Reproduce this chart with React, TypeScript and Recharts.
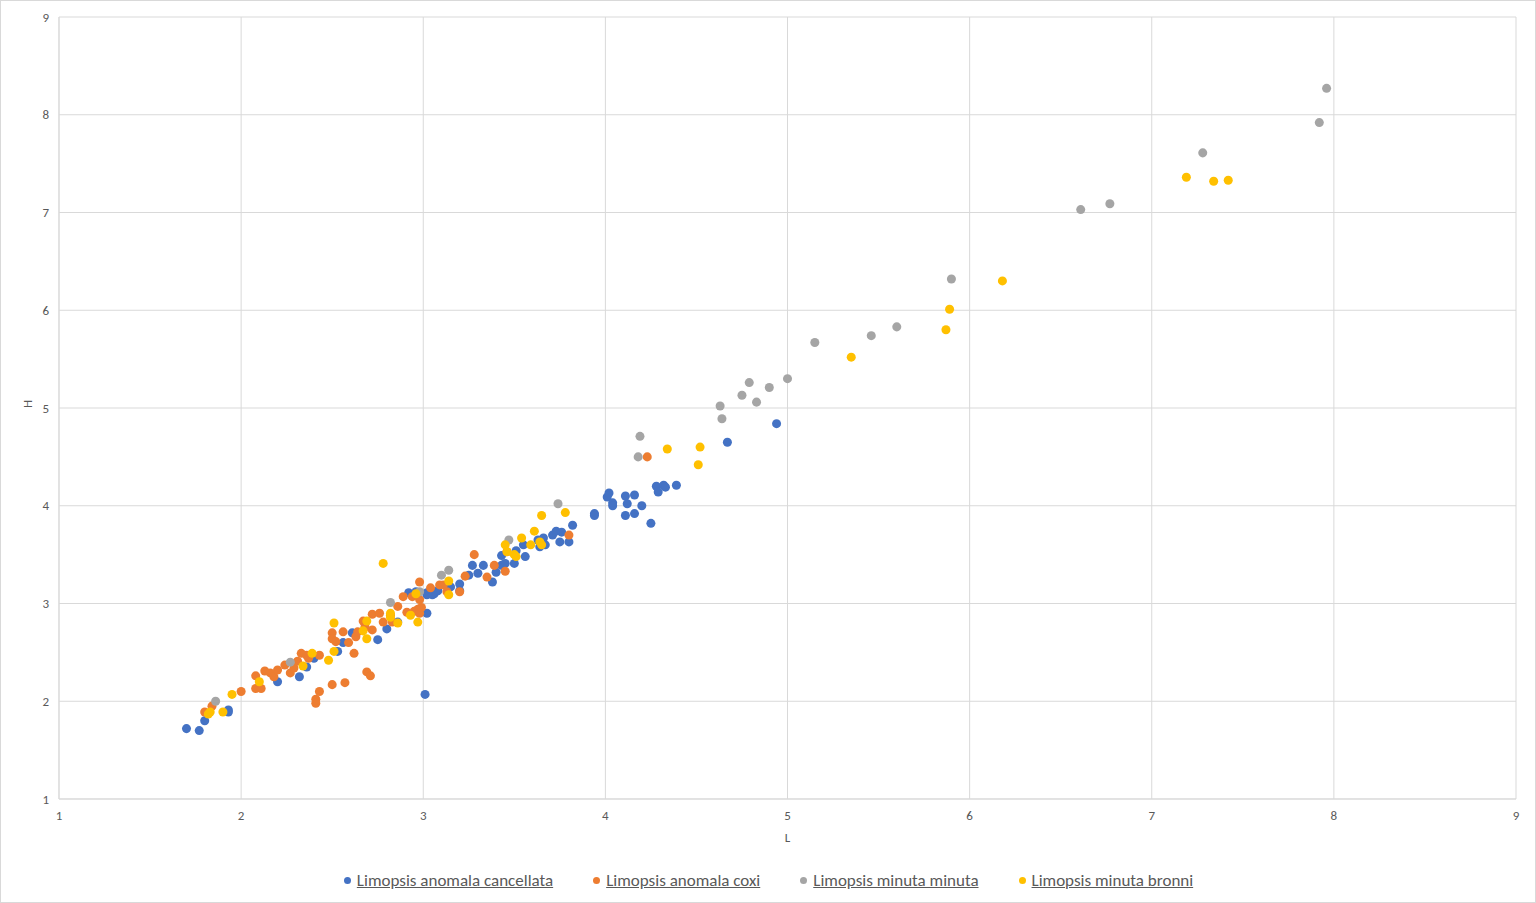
import React from 'react';
import {
  ScatterChart,
  Scatter,
  XAxis,
  YAxis,
  ZAxis,
  CartesianGrid,
  Legend,
} from 'recharts';

// [L, H] pairs
const cancellata: [number, number][] = [
  [1.70, 1.72], [1.77, 1.70], [1.80, 1.80], [1.93, 1.91], [1.93, 1.89], [2.20, 2.20],
  [2.32, 2.25], [2.36, 2.35], [2.40, 2.44], [2.53, 2.51], [2.56, 2.60], [2.61, 2.70],
  [2.75, 2.63], [2.80, 2.74], [2.86, 2.81], [3.01, 2.07], [3.02, 2.90], [2.92, 3.11],
  [2.96, 3.12], [3.02, 3.11], [3.06, 3.10], [3.08, 3.13], [3.02, 3.09], [3.05, 3.09],
  [3.15, 3.17], [3.20, 3.20], [3.20, 3.13], [3.25, 3.29], [3.27, 3.39], [3.30, 3.31],
  [3.33, 3.39], [3.38, 3.22], [3.40, 3.32], [3.43, 3.39], [3.43, 3.49], [3.45, 3.41],
  [3.50, 3.41], [3.51, 3.54], [3.56, 3.48], [3.55, 3.60], [3.63, 3.65], [3.66, 3.67],
  [3.67, 3.60], [3.64, 3.58], [3.71, 3.70], [3.73, 3.74], [3.76, 3.73], [3.75, 3.63],
  [3.80, 3.63], [3.82, 3.80], [3.94, 3.92], [3.94, 3.90], [4.01, 4.09], [4.02, 4.13],
  [4.04, 4.03], [4.04, 4.00], [4.11, 4.10], [4.16, 4.11], [4.12, 4.02], [4.11, 3.90],
  [4.16, 3.92], [4.20, 4.00], [4.25, 3.82], [4.28, 4.20], [4.32, 4.21], [4.33, 4.19],
  [4.29, 4.14], [4.39, 4.21], [4.67, 4.65], [4.94, 4.84],
];

const coxi: [number, number][] = [
  [1.80, 1.89], [1.84, 1.95], [2.00, 2.10], [2.08, 2.13], [2.11, 2.13], [2.08, 2.26],
  [2.13, 2.31], [2.16, 2.29], [2.18, 2.25], [2.20, 2.32], [2.24, 2.37], [2.27, 2.29],
  [2.29, 2.34], [2.31, 2.41], [2.33, 2.49], [2.36, 2.47], [2.37, 2.44], [2.43, 2.47],
  [2.41, 2.02], [2.41, 1.98], [2.43, 2.10], [2.50, 2.17], [2.57, 2.19], [2.62, 2.49],
  [2.69, 2.30], [2.71, 2.26], [2.50, 2.70], [2.50, 2.64], [2.52, 2.61], [2.56, 2.71],
  [2.59, 2.60], [2.63, 2.66], [2.64, 2.71], [2.67, 2.82], [2.68, 2.76], [2.72, 2.89],
  [2.72, 2.73], [2.76, 2.90], [2.78, 2.81], [2.82, 2.88], [2.83, 2.81], [2.86, 2.97],
  [2.89, 3.07], [2.91, 2.91], [2.94, 3.07], [2.97, 2.94], [2.95, 2.92], [2.98, 2.90],
  [2.98, 3.22], [2.98, 3.04], [3.04, 3.16], [3.09, 3.19], [2.99, 2.96], [3.11, 3.19],
  [3.13, 3.12], [3.20, 3.12], [3.28, 3.50], [3.23, 3.28], [3.35, 3.27], [3.39, 3.39],
  [3.45, 3.33], [3.46, 3.53], [3.80, 3.70], [4.23, 4.50],
];

const minuta: [number, number][] = [
  [1.86, 2.00], [2.27, 2.40], [2.82, 3.01], [2.98, 3.12], [3.10, 3.29], [3.14, 3.34],
  [3.47, 3.65], [3.74, 4.02], [4.19, 4.71], [4.18, 4.50], [4.63, 5.02], [4.64, 4.89],
  [4.75, 5.13], [4.79, 5.26], [4.83, 5.06], [4.90, 5.21], [5.00, 5.30], [5.15, 5.67],
  [5.46, 5.74], [5.60, 5.83], [5.90, 6.32], [6.61, 7.03], [6.77, 7.09], [7.28, 7.61],
  [7.92, 7.92], [7.96, 8.27],
];

const bronni: [number, number][] = [
  [1.82, 1.87], [1.83, 1.89], [1.90, 1.89], [1.95, 2.07], [2.10, 2.20], [2.34, 2.36],
  [2.39, 2.49], [2.48, 2.42], [2.51, 2.51], [2.51, 2.80], [2.69, 2.64], [2.69, 2.82],
  [2.67, 2.72], [2.78, 3.41], [2.82, 2.90], [2.82, 2.86], [2.86, 2.80], [2.93, 2.88],
  [2.97, 2.81], [2.96, 3.10], [3.14, 3.23], [3.14, 3.09], [3.45, 3.60], [3.46, 3.53],
  [3.50, 3.50], [3.51, 3.48], [3.54, 3.67], [3.59, 3.60], [3.61, 3.74], [3.64, 3.63],
  [3.65, 3.60], [3.65, 3.90], [3.78, 3.93], [4.34, 4.58], [4.52, 4.60], [4.51, 4.42],
  [5.35, 5.52], [5.87, 5.80], [5.89, 6.01], [6.18, 6.30], [7.19, 7.36], [7.34, 7.32],
  [7.42, 7.33],
];

const axisTicks = [1, 2, 3, 4, 5, 6, 7, 8, 9];

const series = [
  { name: 'Limopsis anomala cancellata', data: cancellata, color: '#4472C4' },
  { name: 'Limopsis anomala coxi', data: coxi, color: '#ED7D31' },
  { name: 'Limopsis minuta minuta', data: minuta, color: '#A5A5A5' },
  { name: 'Limopsis minuta bronni', data: bronni, color: '#FFC000' },
];

const toPoints = (pairs: [number, number][]) => pairs.map(([L, H]) => ({ L, H }));

const font = 'Calibri, Carlito, "Liberation Sans", Arial, sans-serif';

const LegendContent = () => (
  <div
    style={{
      display: 'flex',
      justifyContent: 'center',
      alignItems: 'center',
      gap: 40,
      fontFamily: font,
      fontSize: 17,
      color: '#595959',
      paddingLeft: 20,
    }}
  >
    {series.map((s) => (
      <div key={s.name} style={{ display: 'flex', alignItems: 'center' }}>
        <span
          style={{
            width: 7,
            height: 7,
            borderRadius: '50%',
            background: s.color,
            display: 'inline-block',
            marginRight: 6,
          }}
        />
        <span style={{ textDecoration: 'underline' }}>{s.name}</span>
      </div>
    ))}
  </div>
);

const App: React.FC = () => {
  return (
    <div
      style={{
        position: 'absolute',
        left: 0,
        top: 0,
        width: 1534,
        height: 901,
        border: '1px solid #d9d9d9',
        background: '#fff',
      }}
    >
      <ScatterChart
        width={1534}
        height={901}
        margin={{ top: 16, right: 19, left: 0, bottom: 2 }}
      >
        <CartesianGrid stroke="#d9d9d9" />
        <XAxis
          type="number"
          dataKey="L"
          domain={[1, 9]}
          ticks={axisTicks}
          allowDataOverflow
          height={71}
          tickSize={0}
          tickMargin={12}
          axisLine={{ stroke: '#d9d9d9' }}
          tick={{ fill: '#595959', fontSize: 13, fontFamily: font }}
          label={{ value: 'L', position: 'insideBottom', offset: 28, fill: '#595959', fontSize: 13, fontFamily: font }}
        />
        <YAxis
          type="number"
          dataKey="H"
          domain={[1, 9]}
          ticks={axisTicks}
          allowDataOverflow
          width={58}
          tickSize={0}
          tickMargin={10}
          axisLine={{ stroke: '#d9d9d9' }}
          tick={{ fill: '#595959', fontSize: 13, fontFamily: font }}
          label={{ value: 'H', angle: -90, position: 'insideLeft', offset: 26, fill: '#595959', fontSize: 13, fontFamily: font }}
        />
        <ZAxis range={[46, 46]} />
        <Legend verticalAlign="bottom" height={30} content={<LegendContent />} />
        {series.map((s) => (
          <Scatter
            key={s.name}
            name={s.name}
            data={toPoints(s.data)}
            fill={s.color}
            isAnimationActive={false}
          />
        ))}
      </ScatterChart>
    </div>
  );
};

export default App;
